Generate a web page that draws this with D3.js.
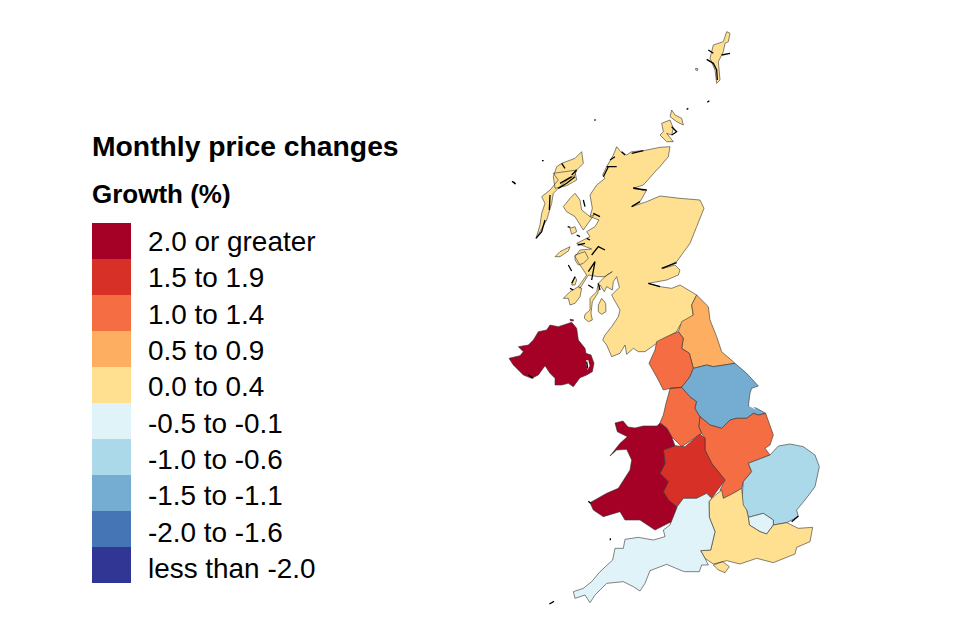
<!DOCTYPE html>
<html>
<head>
<meta charset="utf-8">
<script src="https://cdn.jsdelivr.net/npm/d3@7"></script>
<style>
body { margin: 0; background: #fff; }
svg { display: block; }
text { font-family: "Liberation Sans", Arial, sans-serif; fill: #000; }
</style>
</head>
<body>
<div id="chart"></div>
<script>
// Legend classes, highest first
var classLabels = ["2.0 or greater", "1.5 to 1.9", "1.0 to 1.4", "0.5 to 0.9", "0.0 to 0.4",
  "-0.5 to -0.1", "-1.0 to -0.6", "-1.5 to -1.1", "-2.0 to -1.6", "less than -2.0"];
var classBreaks = [-2, -1.5, -1, -0.5, 0, 0.5, 1, 1.5, 2];

// Monthly growth per region, estimated from the class shown on the map
var regionNames = ["Scotland", "North East", "North West", "Yorkshire and The Humber", "East Midlands",
  "West Midlands", "Wales", "Northern Ireland", "East of England", "London", "South East", "South West"];
var regionGrowth = [0.2, 0.7, 1.2, -1.3, 1.2, 1.7, 2.3, 2.5, -0.8, -0.3, 0.2, -0.3];

// Outlines traced at 3x on sheets of the page, each sheet is its origin
var sheetNorth = [500, 20], sheetWest = [500, 170], sheetMid = [500, 300], sheetSouth = [540, 430];
var sheetLochs = [555, 175], sheetClyde = [555, 255], sheetUlster = [505, 315], sheetDevon = [570, 520];

function sheet(origin, rings) {
  return rings.map(ring => ring.map(p => [origin[0] + p[0] / 3, origin[1] + p[1] / 3]));
}

var scotlandMainland = [].concat(
  sheet(sheetWest, [[[320,-10],[340,-45],[350,-70],[362,-55],[380,-45],[395,-55],[430,-58],[480,-68],[510,-70],[505,-40],[480,-10],[470,0],[430,45],[400,55],[440,60],[420,95],[395,110],[440,95],[480,78],[540,85],[600,90],[612,115],[590,170],[570,220],[530,275],[490,295],[525,285],[540,300],[535,315],[500,330],[445,340],[480,350],[515,355],[540,345],[590,375],[575,405],[580,440],[540,465],[530,485]]])[0],
  sheet(sheetClyde, [[[305,265],[270,290],[250,290],[235,280],[215,298],[210,270],[195,295],[170,305],[155,270],[143,255],[150,240],[170,215],[190,185],[195,165],[178,135],[170,120],[193,97],[185,65],[175,80],[172,105],[155,95],[148,110],[135,90],[128,115],[112,140],[108,175],[112,195],[100,200],[88,190],[90,178],[105,165],[105,130],[125,110],[130,85],[155,60],[172,50],[150,65],[130,65],[100,60],[75,100],[70,95],[95,60]]])[0],
  sheet(sheetLochs, [[[75,270],[60,245],[75,225],[110,222],[65,205],[105,185],[95,170],[120,155],[132,135],[105,125],[112,100],[105,60],[125,30],[150,10],[143,0]]])[0]
);

var scotland = [scotlandMainland].concat(sheet(sheetLochs, [
  [[25,95],[45,70],[60,55],[75,75],[80,105],[105,125],[118,118],[85,165],[60,125],[35,110]],
  [[0,245],[15,230],[45,215],[40,228],[15,245]],
  [[45,160],[60,155],[65,170],[50,178]]
])).concat(sheet(sheetClyde, [
  [[60,0],[90,-10],[100,10],[85,25],[70,30],[60,15]],
  [[25,130],[45,110],[70,95],[80,100],[75,125],[60,145],[45,150],[40,130]],
  [[50,90],[60,65],[65,75],[60,90]],
  [[130,150],[140,130],[152,145],[153,170],[140,178],[130,170]]
])).concat(sheet(sheetWest, [
  [[230,0],[225,15],[195,35],[160,70],[155,100],[140,150],[120,185],[108,205],[120,165],[125,130],[135,100],[125,80],[150,60],[175,30],[160,10]]
])).concat(sheet(sheetNorth, [
  [[245,395],[250,430],[225,455],[230,480],[200,497],[165,505],[160,470],[170,440],[185,430],[225,415]],
  [[680,35],[690,40],[685,65],[675,70],[670,95],[655,125],[660,180],[650,190],[645,150],[630,115],[640,75],[670,65]],
  [[485,310],[510,300],[520,325],[515,345],[500,340],[520,365],[500,365],[480,345],[490,335]],
  [[515,270],[525,285],[545,295],[550,315],[530,305],[510,290]],
  [[587,145],[594,146],[592,152],[587,150]]
]));

var northEast = sheet(sheetMid, [
  [[590,-15],[575,15],[580,45],[545,65],[535,95],[550,115],[545,145],[568,160],[580,205],[620,195],[640,200],[705,190],[665,155],[650,110],[630,60],[625,20]]
]);
var northWest = sheet(sheetMid, [
  [[535,95],[550,115],[545,145],[568,160],[580,205],[570,230],[545,262],[510,265],[490,270],[475,240],[447,190],[465,150],[470,125],[500,110]],
  [[510,265],[545,262],[570,290],[590,305],[585,325],[600,350],[597,380],[605,400],[575,420],[545,440],[515,410],[500,385],[480,368],[490,345],[498,310],[505,285]]
]);
var yorkshire = sheet(sheetMid, [
  [[580,205],[620,195],[640,200],[705,190],[740,220],[775,258],[755,265],[750,280],[745,318],[770,325],[797,340],[775,345],[760,340],[740,355],[710,355],[690,360],[665,385],[630,375],[600,350],[585,325],[590,305],[570,290],[545,262],[570,230]]
]);
var eastMidlands = sheet(sheetMid, [
  [[597,380],[600,350],[630,375],[665,385],[690,360],[710,355],[740,355],[760,340],[775,345],[797,340],[820,405],[810,435],[795,445],[810,465],[745,490],[755,515],[730,545],[725,565],[700,580],[670,595],[660,570],[675,540],[635,490],[615,450],[615,415],[605,400]]
]);
var westMidlands = sheet(sheetSouth, [
  [[405,47],[370,60],[375,100],[360,130],[385,155],[370,185],[385,210],[410,230],[430,205],[470,205],[500,190],[515,205],[555,150],[515,100],[495,60],[495,25],[480,12],[435,50]]
]);
var wales = sheet(sheetSouth, [
  [[225,-21],[249,-27],[264,-9],[285,-6],[310,-12],[351,-12],[360,-21],[380,-6],[395,20],[405,47],[370,60],[375,100],[360,130],[385,155],[370,185],[385,210],[410,230],[412,270],[385,280],[345,300],[300,270],[255,270],[240,245],[190,260],[160,240],[150,218],[200,190],[235,175],[270,120],[275,90],[260,58],[230,60],[210,78],[240,40],[262,20],[232,5]]
]);
var northernIreland = sheet(sheetUlster, [
  [[12,130],[45,122],[55,110],[40,95],[70,90],[85,75],[100,50],[125,45],[135,30],[160,35],[200,22],[215,40],[220,75],[240,100],[243,115],[258,120],[267,145],[262,170],[245,180],[225,188],[205,215],[190,205],[170,210],[150,210],[150,190],[135,175],[120,152],[100,180],[80,190],[55,180],[40,165],[25,150]],
  [[195,13],[205,14],[205,18],[196,17]]
]);
var eastEngland = sheet(sheetSouth, [
  [[625,100],[690,75],[715,48],[750,42],[790,50],[825,75],[838,110],[825,170],[795,210],[770,240],[775,260],[740,278],[700,285],[700,270],[670,250],[625,262],[620,240],[605,225],[608,180],[610,155],[635,125]]
]);
var london = sheet(sheetSouth, [
  [[625,262],[670,250],[700,270],[700,285],[680,312],[660,305],[628,285]]
]);
var southEast = sheet(sheetSouth, [
  [[605,175],[610,225],[620,240],[625,262],[628,285],[660,305],[680,312],[700,285],[740,278],[775,295],[818,292],[810,335],[770,352],[765,372],[700,398],[650,385],[600,402],[560,392],[520,402],[495,385],[482,362],[512,360],[525,305],[508,262],[507,215],[515,205],[545,180],[550,205],[580,190]],
  [[520,405],[548,395],[568,410],[555,428],[535,420]]
]);
var southWest = [[].concat(
  sheet(sheetSouth, [[[412,230],[430,205],[470,205],[500,190],[515,205],[507,215],[508,262],[525,305],[512,360],[482,362],[495,385],[505,405]]])[0],
  sheet(sheetDevon, [[[395,135],[388,155],[343,155],[330,150],[290,133],[240,152],[225,190],[210,213],[190,200],[160,185],[110,190],[75,225],[60,248],[45,225],[15,235],[10,215],[40,205],[65,185],[90,155],[128,120],[135,85],[160,85],[165,58],[205,52],[250,60],[285,50],[280,30],[300,15]]])[0]
)];
var regionRings = [scotland, northEast, northWest, yorkshire, eastMidlands, westMidlands, wales,
  northernIreland, eastEngland, london, southEast, southWest];

// Strangford Lough and the Humber show as white inside their regions
var loughs = sheet(sheetUlster, [[[243,136],[250,136],[254,152],[248,165],[245,152]]])
  .concat(sheet(sheetMid, [[[745,318],[757,318],[775,335],[770,330]]]));

// Lochs and islets too fine to fill, they read as black on the map
var fineCoast = sheet(sheetNorth, [
  [[625,90],[640,100]],[[620,118],[640,130],[650,150],[652,180]],[[665,105],[690,100]],
  [[185,430],[195,445]],[[175,505],[200,490],[225,470]],[[215,465],[230,450]],
  [[330,420],[345,410]],[[320,440],[350,440]],[[310,470],[325,440]],[[365,395],[375,405]],
  [[395,400],[430,392]],[[515,320],[530,335],[515,345]],[[622,247],[628,242]],[[560,268],[565,265]],
  [[283,301],[287,299]],[[126,422],[131,422]],[[36,484],[46,492]]
]).concat(sheet(sheetWest, [
  [[150,75],[148,120]],[[135,150],[125,185],[108,205]],[[180,40],[215,20]],
  [[40,35],[47,42]],[[400,55],[440,60]],[[395,110],[420,95]],[[485,295],[530,278]],[[445,340],[480,350]]
])).concat(sheet(sheetLochs, [
  [[85,75],[90,95]],[[115,115],[135,125]],[[65,180],[75,185]],[[95,190],[105,195]],
  [[68,210],[90,205]],[[110,240],[130,215],[150,225]],[[235,38],[265,45]],[[38,155],[46,157]]
])).concat(sheet(sheetClyde, [
  [[40,30],[50,48]],[[60,65],[50,85]],[[100,50],[120,20],[110,75]],[[100,90],[115,100]],
  [[130,85],[135,105]],[[45,100],[55,105]]
])).concat(sheet(sheetUlster, [
  [[70,180],[85,190]],[[245,140],[248,160]]
])).concat(sheet(sheetSouth, [
  [[28,522],[42,514]],[[755,275],[775,258]],[[145,214],[152,220]],[[211,325],[211,331]]
]));

var width = 960, height = 640;
var svg = d3.select("#chart").append("svg").attr("width", width).attr("height", height);

// Bins run low to high, the legend runs high to low
var colours = d3.schemeRdYlBu[10];
var colourScale = d3.scaleThreshold().domain(classBreaks).range(colours.slice().reverse());

var features = regionNames.map((name, i) => ({
  type: "Feature",
  properties: { name: name, growth: regionGrowth[i] },
  geometry: { type: "MultiPolygon", coordinates: regionRings[i].map(r => [r.concat([r[0]])]) }
}));

var mapPath = d3.geoPath(d3.geoIdentity());

svg.append("g").selectAll("path")
  .data(features)
  .enter()
  .append("path")
  .attr("d", mapPath)
  .attr("fill", d => colourScale(d.properties.growth))
  .attr("stroke", "#333")
  .attr("stroke-width", 0.6)
  .attr("stroke-linejoin", "round");

svg.append("path")
  .datum({ type: "MultiPolygon", coordinates: loughs.map(r => [r.concat([r[0]])]) })
  .attr("d", mapPath)
  .attr("fill", "#fff");

svg.append("path")
  .datum({ type: "MultiLineString", coordinates: fineCoast })
  .attr("d", mapPath)
  .attr("fill", "none")
  .attr("stroke", "#000")
  .attr("stroke-width", 1.3);

// Legend
svg.append("text").attr("x", 92).attr("y", 156)
  .attr("font-size", 28.3).attr("font-weight", "bold").text("Monthly price changes");
svg.append("text").attr("x", 92).attr("y", 203)
  .attr("font-size", 26).attr("font-weight", "bold").text("Growth (%)");

var legendY = d3.scaleBand().domain(classLabels).range([223, 583]);
var labelY = d3.scalePoint().domain(classLabels).range([251, 578]);

var legendRow = svg.append("g").selectAll("g")
  .data(classLabels)
  .enter()
  .append("g");

legendRow.append("rect")
  .attr("x", 92)
  .attr("y", d => legendY(d))
  .attr("width", 39)
  .attr("height", legendY.bandwidth())
  .attr("fill", (d, i) => colours[i]);

legendRow.append("text")
  .attr("x", 148)
  .attr("y", d => labelY(d))
  .attr("font-size", 27.9)
  .text(d => d);
</script>
</body>
</html>
